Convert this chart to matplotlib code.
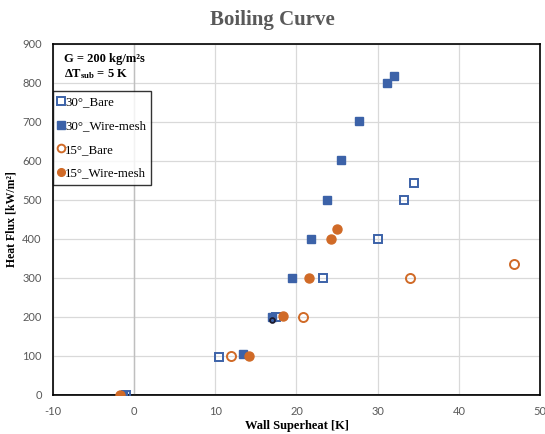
import matplotlib
matplotlib.use("Agg")
import matplotlib.pyplot as plt

# --- data ---
bare30_x = [-1.0, 10.4, 17.5, 23.3, 30.0, 33.2, 34.5]
bare30_y = [0, 98, 200, 300, 400, 500, 543]

mesh30_x = [-1.4, 13.4, 17.0, 19.4, 21.8, 23.8, 25.5, 27.7, 31.1, 32.0]
mesh30_y = [0, 105, 200, 300, 401, 500, 601, 702, 800, 818]

bare15_x = [11.9, 20.8, 34.0, 46.8]
bare15_y = [100, 201, 300, 336]

mesh15_x = [-1.7, 14.2, 18.4, 21.5, 24.3, 25.0]
mesh15_y = [0, 99, 202, 300, 401, 426]

extra_x = [17.0]
extra_y = [191]

BLUE = "#3C62A8"
ORANGE = "#D06A27"
GREY = "#595959"
SERIF = "Liberation Serif"

plt.rcParams["axes.unicode_minus"] = False
plt.rcParams["mathtext.fontset"] = "custom"
plt.rcParams["mathtext.rm"] = "Liberation Serif:bold"
plt.rcParams["mathtext.it"] = "Liberation Serif:bold"
plt.rcParams["mathtext.bf"] = "Liberation Serif:bold"

fig = plt.figure(figsize=(5.45, 4.34), dpi=100)
ax = fig.add_axes([0.097, 0.09, 0.894, 0.809])

ax.set_xlim(-10, 50)
ax.set_ylim(0, 900)
ax.set_xticks(range(-10, 51, 10))
ax.set_yticks(range(0, 901, 100))
ax.grid(True, color="#D9D9D9", linewidth=0.9)
ax.set_axisbelow(True)
ax.axhline(0, color="#7F7F7F", linewidth=1.4, zorder=1)
ax.axvline(0, color="#BFBFBF", linewidth=1.0, zorder=1)

for s in ax.spines.values():
    s.set_color("black")
    s.set_linewidth(1.2)
ax.tick_params(length=0, labelsize=8, colors=GREY, pad=8)
for lbl in ax.get_xticklabels() + ax.get_yticklabels():
    lbl.set_family("Lato")

ax.plot(bare30_x, bare30_y, "s", ms=6, mfc="none", mec=BLUE, mew=1.4,
        label="30°_Bare", zorder=3)
ax.plot(mesh30_x, mesh30_y, "s", ms=6, mfc=BLUE, mec=BLUE,
        label="30°_Wire-mesh", zorder=3)
ax.plot(bare15_x, bare15_y, "o", ms=6.5, mfc="none", mec=ORANGE, mew=1.4,
        label="15°_Bare", zorder=3)
ax.plot(mesh15_x, mesh15_y, "o", ms=6.5, mfc=ORANGE, mec=ORANGE,
        label="15°_Wire-mesh", zorder=3)
ax.plot(extra_x, extra_y, "o", ms=3.5, mfc="none", mec="#1B1B2F", mew=1.3,
        zorder=4)

leg = ax.legend(loc="upper left", bbox_to_anchor=(0, 0.865), borderaxespad=0,
                frameon=True, fancybox=False, edgecolor="black",
                prop={"family": SERIF, "size": 9.3}, handlelength=0.45,
                handletextpad=0.1, labelspacing=0.9, borderpad=0.4,
                markerscale=0.85)
leg.get_frame().set_linewidth(1.0)

ax.text(0.022, 0.975, "G = 200 kg/m²s", transform=ax.transAxes,
        family=SERIF, weight="bold", fontsize=9, va="top")
ax.text(0.022, 0.905, r"$\Delta$T$_{sub}$ = 5 K", transform=ax.transAxes,
        family=SERIF, weight="bold", fontsize=9, va="baseline")

fig.text(0.5, 0.953, "Boiling Curve", ha="center", va="center",
         family=SERIF, weight="bold", fontsize=15, color=GREY)
ax.set_xlabel("Wall Superheat [K]", family=SERIF, weight="bold",
              fontsize=9, labelpad=2)
ax.set_ylabel("Heat Flux [kW/m²]", family=SERIF, weight="bold",
              fontsize=8.5, labelpad=3)

fig.savefig("out.png", dpi=100)
